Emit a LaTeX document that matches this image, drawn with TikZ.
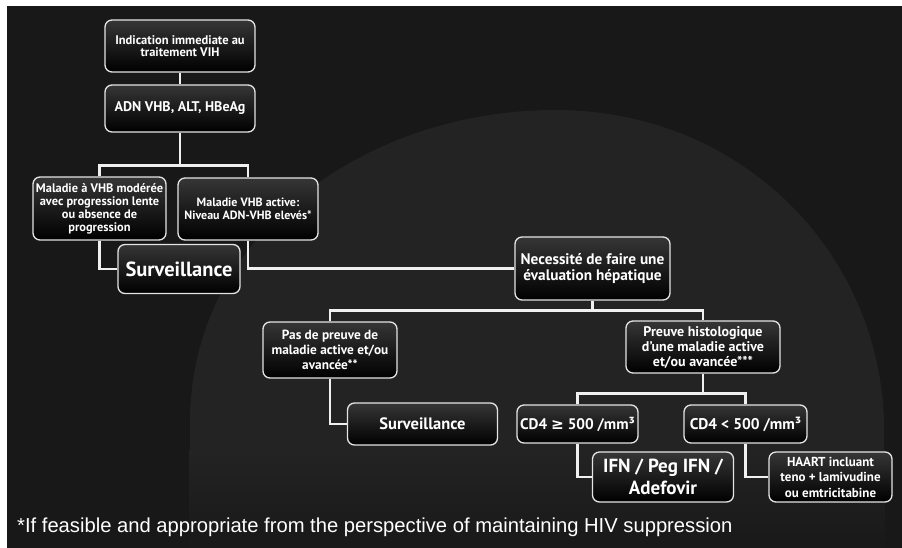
\documentclass[tikz,border=0pt]{standalone}
\usepackage{fontspec}
\setmainfont{PT Sans}
\newfontfamily\footfont{Liberation Sans}
\newfontfamily\symfont{DejaVu Sans}
\definecolor{bgdark}{HTML}{181818}
\definecolor{bgsky}{HTML}{232323}
\definecolor{boxtop}{HTML}{363636}
\definecolor{edge}{HTML}{E4E4E4}
\definecolor{wire}{HTML}{F0F0F0}
\newcommand{\fs}[2]{\bfseries\fontsize{#1}{#2}\selectfont}
\begin{document}
\begin{tikzpicture}[x=1pt,y=1pt,
  box/.style={draw=edge, line width=1.3pt, rounded corners=7pt, top color=boxtop, bottom color=black,
    text=white, align=center, inner sep=1pt, font=\fs{12}{13}},
  wirel/.style={draw=wire, line width=2.4pt}]
\useasboundingbox (0,0) rectangle (902,-547);
% background
\fill[white] (-5,5) rectangle (910,-555);
\fill[bgdark] (7,-6) rectangle (910,-555);
\fill[bgsky] (190,-555) -- (190,-420) .. controls (192,-230) and (370,-110) .. (555,-110)
  .. controls (740,-110) and (878,-250) .. (884,-420) -- (884,-555) -- cycle;
\shade[top color=bgsky, bottom color=bgdark] (189,-450) rectangle (885,-555);
% nodes
\node[box, minimum width=150pt, minimum height=52pt, font=\fs{12.5}{12}] (ind) at (180,-46) {Indication immediate au\\traitement VIH};
\node[box, minimum width=150pt, minimum height=47pt, font=\fs{14}{15}] (adn) at (180,-108.5) {ADN VHB, ALT, HBeAg};
\node[box, minimum width=133pt, minimum height=63pt, font=\fs{12.4}{12.9}] (mod) at (99.5,-208.5) {Maladie à VHB modérée\\avec progression lente\\ou absence de\\progression};
\node[box, minimum width=140pt, minimum height=62pt, font=\fs{12}{12.7}] (act) at (248,-209) {Maladie VHB active:\\Niveau ADN-VHB elevés*};
\node[box, minimum width=122pt, minimum height=49pt, font=\fs{20.5}{22}] (surv1) at (179,-269) {Surveillance};
\node[box, minimum width=155pt, minimum height=63pt, font=\fs{15.3}{15.2}] (nec) at (592.5,-268.5) {Necessité de faire une\\évaluation hépatique};
\node[box, minimum width=134pt, minimum height=56pt, font=\fs{13.3}{15}] (pas) at (330,-350) {Pas de preuve de\\maladie active et/ou\\avancée**};
\node[box, minimum width=154pt, minimum height=52pt, font=\fs{14}{15}] (prv) at (703,-347) {Preuve histologique\\d’une maladie active\\et/ou avancée***};
\node[box, minimum width=150pt, minimum height=42pt, font=\fs{16.5}{18}] (surv2) at (422.5,-424) {Surveillance};
\node[box, minimum width=121pt, minimum height=38pt, font=\fs{15.3}{17}] (cda) at (577.5,-424) {CD4 {\symfont\bfseries ≥} 500 /mm³};
\node[box, minimum width=123pt, minimum height=38pt, font=\fs{15.5}{17}] (cdb) at (745.5,-424) {CD4 < 500 /mm³};
\node[box, minimum width=141pt, minimum height=50pt, font=\fs{19}{22}] (ifn) at (663,-477) {IFN / Peg IFN /\\Adefovir};
\node[box, minimum width=123pt, minimum height=50pt, font=\fs{13}{15.5}] (haart) at (830.5,-477) {HAART incluant\\teno + lamivudine\\ou emtricitabine};
\node[anchor=west, text=white, inner sep=0pt, font=\footfont\fontsize{20.2}{22}\selectfont] (foot) at (17,-527) {*If feasible and appropriate from the perspective of maintaining HIV suppression};
% connectors
\draw[wirel] (ind.south) -- (adn.north);
\draw[wirel] (adn.south) -- ++(0,-33) coordinate (j1);
\draw[wirel] (mod.north) |- (j1) -| (act.north);
\draw[wirel] (mod.south) |- (surv1.west);
\draw[wirel] (act.south) |- (nec.west);
\draw[wirel] (nec.south) -- ++(0,-10) coordinate (j2);
\draw[wirel] (pas.north) |- (j2) -| (prv.north);
\draw[wirel] (pas.south) |- (surv2.west);
\draw[wirel] (prv.south) -- ++(0,-20) coordinate (j3);
\draw[wirel] (cda.north) |- (j3) -| (cdb.north);
\draw[wirel] (cda.south) |- (ifn.west);
\draw[wirel] (cdb.south) |- (haart.west);
\end{tikzpicture}
\end{document}
